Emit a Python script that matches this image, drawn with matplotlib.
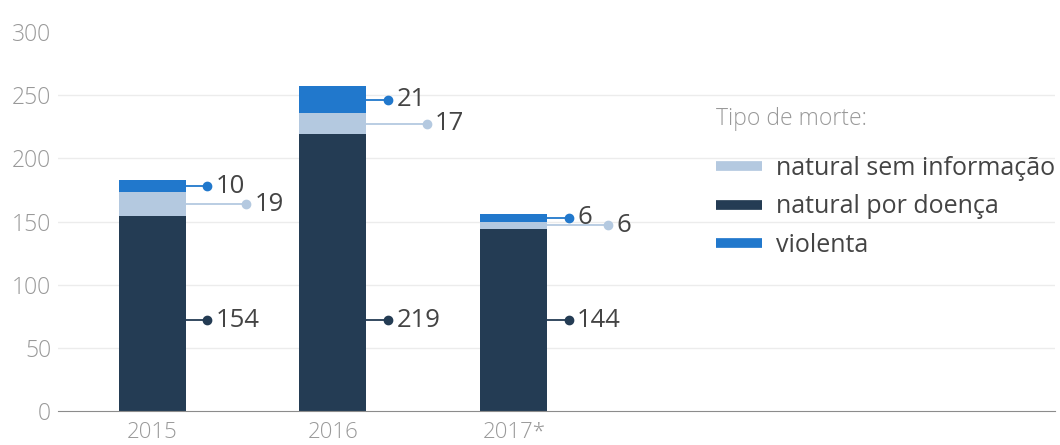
import matplotlib.pyplot as plt
from matplotlib.lines import Line2D

years = ["2015", "2016", "2017*"]
natural_doenca = [154, 219, 144]
natural_sem_info = [19, 17, 6]
violenta = [10, 21, 6]

c_dark = "#243c54"
c_light = "#b4c9e0"
c_blue = "#2178cc"

plt.rcParams["font.family"] = ["Open Sans", "DejaVu Sans"]

fig = plt.figure(figsize=(10.6, 4.45), dpi=100)
ax = fig.add_axes([0.0547, 0.0764, 0.9403, 0.8516])

x = list(range(len(years)))
w = 0.37
bottom2 = natural_doenca
bottom3 = [a + b for a, b in zip(natural_doenca, natural_sem_info)]

ax.bar(x, natural_doenca, w, color=c_dark, zorder=2)
ax.bar(x, natural_sem_info, w, bottom=bottom2, color=c_light, zorder=2)
ax.bar(x, violenta, w, bottom=bottom3, color=c_blue, zorder=2)

# value labels with leader lines (dark labels share one height)
dark_y = min(natural_doenca) / 2
for i in x:
    edge = i + w / 2
    segs = [
        (dark_y, natural_doenca[i], c_dark, 0.12),
        (bottom2[i] + natural_sem_info[i] / 2, natural_sem_info[i], c_light, 0.335),
        (bottom3[i] + violenta[i] / 2, violenta[i], c_blue, 0.12),
    ]
    for ymid, val, col, off in segs:
        ax.plot([edge, edge + off], [ymid, ymid], color=col, lw=1.3, zorder=3)
        ax.plot(edge + off, ymid, "o", color=col, ms=6, zorder=4)
        ax.text(edge + off + 0.045, ymid, str(val), color="#444444", fontsize=18.5,
                va="center", ha="left")

ax.set_xlim(-0.52, 4.99)
ax.set_ylim(0, 300)
ax.set_yticks([0, 50, 100, 150, 200, 250, 300])
ax.set_xticks(x)
ax.set_xticklabels(years)
ax.tick_params(length=0, labelsize=16.5, labelcolor="#999999")
ax.tick_params(axis="x", labelsize=16)
ax.tick_params(axis="y", pad=5)
ax.tick_params(axis="x", pad=8)
for t in ax.get_yticklabels():
    t.set_fontweight("light")
for t in ax.get_xticklabels():
    t.set_fontweight("light")

for yv in [50, 100, 150, 200, 250]:
    ax.axhline(yv, color="#ececec", lw=1, zorder=0)

for s in ["top", "right", "left"]:
    ax.spines[s].set_visible(False)
ax.spines["bottom"].set_color("#8c8c8c")

handles = [
    Line2D([0], [0], color=c_light, lw=7, solid_capstyle="butt"),
    Line2D([0], [0], color=c_dark, lw=7, solid_capstyle="butt"),
    Line2D([0], [0], color=c_blue, lw=7, solid_capstyle="butt"),
]
labels = ["natural sem informação", "natural por doença", "violenta"]
leg = fig.legend(handles, labels, title="Tipo de morte:", loc="upper left",
                 bbox_to_anchor=(0.666, 0.783), frameon=False, fontsize=18,
                 title_fontsize=16.5, alignment="left", handlelength=1.85,
                 handletextpad=0.55, labelspacing=0.55, borderaxespad=0)
leg.get_title().set_color("#999999")
leg.get_title().set_fontweight("light")
for t in leg.get_texts():
    t.set_color("#444444")
leg._legend_box.sep = 18

fig.savefig("out.png", dpi=100)
